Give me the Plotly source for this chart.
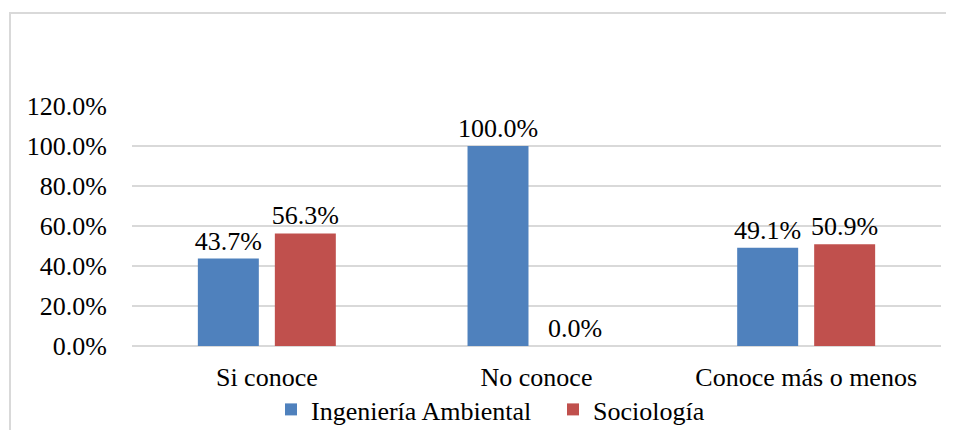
import plotly.graph_objects as go

categories = ["Si conoce", "No conoce", "Conoce más o menos"]
ingenieria = [43.7, 100.0, 49.1]
sociologia = [56.3, 0.0, 50.9]
series_names = ["Ingeniería Ambiental", "Sociología"]
tick_vals = [0, 20, 40, 60, 80, 100, 120]
tick_text = [f"{v:.1f}%" for v in tick_vals]

FONT = "Times New Roman, Liberation Serif, serif"
FS = 26
OFF = 8  # page body margin
W, H = 954 - OFF, 430 - OFF
L, R, T, B = 124, 13, 98, 84

fig = go.Figure()
for name, vals, color in [(series_names[0], ingenieria, "#4F81BD"),
                          (series_names[1], sociologia, "#C0504D")]:
    fig.add_trace(go.Bar(
        x=categories, y=vals, name=name, marker_color=color,
        text=[f"{v:.1f}%" for v in vals], textposition="outside",
        textfont=dict(family=FONT, size=FS, color="#000000"),
        constraintext="none", cliponaxis=False,
    ))

pw = W - L - R
ph = H - T - B
fig.add_shape(type="rect", xref="paper", yref="paper",
              x0=(2 - L) / pw, x1=(W + 10 - L) / pw,
              y0=-(H + 10 - T - ph) / ph, y1=(H - B - 5) / ph,
              line=dict(color="#D9D9D9", width=2), fillcolor="rgba(0,0,0,0)",
              layer="below")

fig.update_layout(
    template="none",
    width=W, height=H,
    margin=dict(l=L, r=R, t=T, b=B, pad=0, autoexpand=False),
    paper_bgcolor="white", plot_bgcolor="white",
    barmode="group", bargap=0.429, bargroupgap=0.208,
    font=dict(family=FONT, size=FS, color="#000000"),
    showlegend=True,
    legend=dict(orientation="h", x=(263 - L) / pw, xanchor="left",
                y=-(378 - T - ph) / ph, yanchor="top",
                font=dict(family=FONT, size=FS), itemwidth=30,
                entrywidth=237,
                bgcolor="rgba(0,0,0,0)"),
    xaxis=dict(showgrid=False, showline=False, zeroline=False,
               automargin=False,
               ticks="outside", ticklen=8, tickcolor="rgba(0,0,0,0)",
               tickfont=dict(family=FONT, size=FS)),
    yaxis=dict(range=[0, 120], tickvals=tick_vals, ticktext=tick_text,
               automargin=False,
               showgrid=True, gridcolor="#D9D9D9", gridwidth=2,
               zeroline=True, zerolinecolor="#D9D9D9", zerolinewidth=2,
               showline=False, ticks="outside", ticklen=19,
               tickcolor="rgba(0,0,0,0)",
               tickfont=dict(family=FONT, size=FS)),
)

fig.write_html("out.html")
